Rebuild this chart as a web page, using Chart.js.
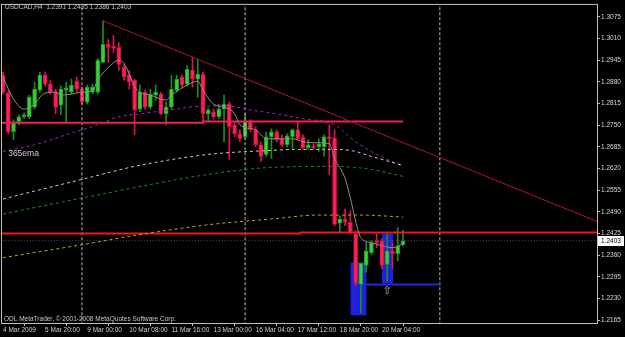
<!DOCTYPE html>
<html><head><meta charset="utf-8">
<script src="https://cdn.jsdelivr.net/npm/chart.js@4/dist/chart.umd.min.js"></script>
<style>html,body{margin:0;padding:0;background:#000;overflow:hidden}</style>
</head><body>
<canvas id="c" width="625" height="337"></canvas>
<script>
// ---- data ----
const headerText = "USDCAD,H4  1.2391 1.2435 1.2386 1.2403";
const copyrightText = "ODL MetaTrader, \u00A9 2001-2008 MetaQuotes Software Corp.";
const opens  = [1.2900,1.2846,1.2730,1.2760,1.2775,1.2775,1.2804,1.2855,1.2900,1.2873,1.2849,1.2810,1.2855,1.2849,1.2882,1.2858,1.2819,1.2849,1.2849,1.2938,1.2992,1.2986,1.2983,1.2923,1.2900,1.2885,1.2798,1.2849,1.2804,1.2840,1.2843,1.2784,1.2804,1.2855,1.2894,1.2873,1.2914,1.2888,1.2903,1.2784,1.2790,1.2775,1.2798,1.2813,1.2751,1.2724,1.2715,1.2760,1.2736,1.2691,1.2662,1.2715,1.2730,1.2709,1.2691,1.2715,1.2736,1.2715,1.2682,1.2688,1.2685,1.2685,1.2715,1.2712,1.2456,1.2468,1.2459,1.2424,1.2272,1.2329,1.2367,1.2403,1.2403,1.2332,1.2373,1.2364,1.2391];
const highs  = [1.2909,1.2852,1.2766,1.2781,1.2787,1.2840,1.2879,1.2909,1.2909,1.2885,1.2858,1.2867,1.2879,1.2888,1.2894,1.2864,1.2870,1.2873,1.2950,1.3063,1.3007,1.3019,1.2998,1.2932,1.2914,1.2888,1.2870,1.2855,1.2858,1.2870,1.2849,1.2819,1.2900,1.2900,1.2900,1.2929,1.2953,1.2947,1.2909,1.2801,1.2798,1.2813,1.2840,1.2819,1.2760,1.2736,1.2784,1.2766,1.2745,1.2700,1.2730,1.2739,1.2736,1.2721,1.2724,1.2739,1.2760,1.2721,1.2706,1.2694,1.2709,1.2721,1.2751,1.2736,1.2477,1.2498,1.2492,1.2433,1.2335,1.2397,1.2403,1.2424,1.2409,1.2424,1.2397,1.2442,1.2435];
const lows   = [1.2843,1.2724,1.2706,1.2751,1.2769,1.2769,1.2798,1.2849,1.2867,1.2843,1.2784,1.2781,1.2760,1.2843,1.2849,1.2813,1.2813,1.2843,1.2843,1.2938,1.2938,1.2968,1.2914,1.2885,1.2858,1.2721,1.2790,1.2798,1.2798,1.2825,1.2781,1.2751,1.2798,1.2849,1.2864,1.2867,1.2864,1.2834,1.2760,1.2760,1.2769,1.2769,1.2700,1.2647,1.2715,1.2700,1.2709,1.2730,1.2685,1.2641,1.2656,1.2650,1.2700,1.2685,1.2685,1.2680,1.2706,1.2677,1.2677,1.2677,1.2671,1.2656,1.2602,1.2448,1.2427,1.2448,1.2424,1.2269,1.2186,1.2308,1.2361,1.2382,1.2320,1.2284,1.2320,1.2343,1.2386];
const closes = [1.2849,1.2730,1.2760,1.2775,1.2781,1.2834,1.2858,1.2900,1.2873,1.2849,1.2804,1.2858,1.2861,1.2870,1.2858,1.2819,1.2864,1.2864,1.2944,1.2992,1.2983,1.2980,1.2932,1.2894,1.2879,1.2796,1.2849,1.2804,1.2843,1.2849,1.2784,1.2804,1.2858,1.2888,1.2870,1.2917,1.2888,1.2903,1.2784,1.2796,1.2775,1.2798,1.2813,1.2745,1.2724,1.2709,1.2760,1.2736,1.2691,1.2656,1.2715,1.2730,1.2706,1.2691,1.2718,1.2736,1.2709,1.2682,1.2691,1.2682,1.2694,1.2715,1.2709,1.2453,1.2468,1.2459,1.2427,1.2275,1.2335,1.2373,1.2397,1.2397,1.2329,1.2373,1.2364,1.2388,1.2403];

// moving averages (bar index, value)
const fastMaBars = [0,2,4,6,7,8,10,11,13,15,17,18,20,22,23,24,25,26,28,31,32,35,37,38,40,42,44,45,48,50,52,55,57,60,62,63,65,66,67,68,70,72,74,76];
const fastMaVals = [1.2894,1.2828,1.2798,1.2813,1.2834,1.2846,1.2849,1.2840,1.2843,1.2849,1.2852,1.2885,1.2923,1.2944,1.2935,1.2903,1.2865,1.2849,1.2840,1.2825,1.2840,1.2870,1.2882,1.2855,1.2813,1.2804,1.2784,1.2751,1.2736,1.2709,1.2709,1.2709,1.2700,1.2697,1.2694,1.2650,1.2590,1.2531,1.2462,1.2412,1.2397,1.2388,1.2382,1.2394];
const purpleMaBars = [0,6,12,18,22,26,32,38,43,46,52,57,63,67,71,76];
const purpleMaVals = [1.2671,1.2691,1.2721,1.2751,1.2775,1.2784,1.2796,1.2807,1.2807,1.2798,1.2784,1.2769,1.2751,1.2700,1.2662,1.2626];
const whiteMaBars = [0,6,15,25,39,51,56,62,66,70,76];
const whiteMaVals = [1.2528,1.2552,1.2587,1.2626,1.2662,1.2674,1.2677,1.2677,1.2674,1.2656,1.2629];
const greenMaBars = [0,15,39,51,63,70,76];
const greenMaVals = [1.2483,1.2531,1.2602,1.2623,1.2626,1.2617,1.2596];
const yellowMaBars = [0,15,27,39,51,60,68,76];
const yellowMaVals = [1.2352,1.2391,1.2424,1.2451,1.2468,1.2480,1.2480,1.2474];

// drawn objects
const trendBars = [19,113];
const trendVals = [1.3063,1.2460];
const pinkLineBars = [-1,38,38,76];
const pinkLineVals = [1.2757,1.2757,1.2761,1.2761];
const redLineBars = [-1,56.5,56.5,113];
const redLineVals = [1.2425,1.2425,1.2428,1.2428];
const blueLineBars = [69,83];
const blueLineVals = [1.2272,1.2272];
const bidPrice = 1.2403;
const separatorBars = [15,46,83];
const boxFrom = [66,72], boxTo = [69,74.1], boxTop = [1.2338,1.2424], boxBottom = [1.2180,1.2275];
const emaLabel = {bar:0.6, price:1.2664, text:"365ema"};
const arrowMark = {bar:73, price:1.2251, text:"\u21E7"};

const xTickBars = [0,8,16,24,32,40,48,56,64,72];
const xTickLabels = ["4 Mar 2009","5 Mar 20:00","9 Mar 00:00","10 Mar 08:00","11 Mar 16:00","13 Mar 00:00","16 Mar 04:00","17 Mar 12:00","18 Mar 20:00","20 Mar 04:00"];
const yTicks = [1.3075,1.3010,1.2945,1.2880,1.2815,1.2750,1.2685,1.2620,1.2555,1.2490,1.2425,1.2360,1.2295,1.2230,1.2165];

// ---- axis ranges ----
const yMin = 1.21561, yMax = 1.31107, xMin = -0.19, xMax = 112.86;

const bars = opens.map((_, i) => i);
const isUp = bars.map(i => closes[i] >= opens[i]);
const pts = (xs, ys) => xs.map((x, i) => ({x, y: ys[i]}));
const FONT = "'Liberation Sans', Arial, sans-serif";

const dashedMa = (data, color) => ({type:'line', data, borderColor:color, borderWidth:1, borderDash:[3,3], pointRadius:0, cubicInterpolationMode:'monotone', order:0});
const objLine = (data, color, w, dash) => ({type:'line', data, borderColor:color, borderWidth:w, borderDash:dash||[], pointRadius:0, tension:0, order:0});

const datasets = [
  {type:'bar', data: bars.map(i => ({x:i, y:[lows[i], highs[i]]})), backgroundColor: bars.map(i => isUp[i] ? '#1c8c1c' : '#e0144e'), barThickness:1, grouped:false, order:2},
  {type:'bar', data: bars.map(i => ({x:i, y:[opens[i], closes[i]]})), backgroundColor: bars.map(i => isUp[i] ? '#36d236' : '#ff1f5c'), borderColor: bars.map(i => isUp[i] ? '#1f9a1f' : '#d0103f'), borderWidth:1, borderSkipped:false, barThickness:4, minBarLength:1, grouped:false, order:1},
  dashedMa(pts(yellowMaBars, yellowMaVals), '#c8a020'),
  dashedMa(pts(greenMaBars, greenMaVals), '#1e8a1e'),
  dashedMa(pts(whiteMaBars, whiteMaVals), '#c8c8c8'),
  dashedMa(pts(purpleMaBars, purpleMaVals), '#a61ec8'),
  {type:'line', data: pts(fastMaBars, fastMaVals), borderColor:'#8e8e8e', borderWidth:1, pointRadius:0, cubicInterpolationMode:'monotone', order:0},
  objLine([{x:xMin-1,y:bidPrice},{x:xMax+1,y:bidPrice}], '#5a5a5a', 1, [1,2]),
  objLine(pts(trendBars, trendVals), '#b0123c', 1),
  objLine(pts(pinkLineBars, pinkLineVals), '#f21e5a', 2),
  objLine(pts(redLineBars, redLineVals), '#f01818', 2),
  objLine(pts(blueLineBars, blueLineVals), '#2626e6', 2),
  ...separatorBars.map(b => objLine([{x:b,y:yMin-1},{x:b,y:yMax+1}], '#bdbdbd', 1, [3,2]))
];

const decor = {
  id:'decor',
  beforeDatasetsDraw(chart) {
    const {ctx, scales:{x, y}, chartArea:a} = chart;
    ctx.save();
    ctx.beginPath(); ctx.rect(a.left, a.top, a.right-a.left, a.bottom-a.top); ctx.clip();
    boxFrom.forEach((f, i) => {
      const x0 = x.getPixelForValue(f), x1 = x.getPixelForValue(boxTo[i]);
      const y0 = y.getPixelForValue(boxTop[i]), y1 = y.getPixelForValue(boxBottom[i]);
      ctx.fillStyle = '#1c1cd6';
      ctx.fillRect(x0, y0, x1-x0, y1-y0);
      ctx.fillStyle = 'rgba(80,80,255,0.35)';
      for (let yy = Math.ceil(y0); yy < y1; yy += 2)
        for (let xx = Math.ceil(x0) + (yy % 4 ? 1 : 0); xx < x1; xx += 2) ctx.fillRect(xx, yy, 1, 1);
    });
    ctx.restore();
  },
  afterDraw(chart) {
    const {ctx, scales:{x, y}, chartArea:a} = chart;
    ctx.save();
    ctx.strokeStyle = '#c0c0c0'; ctx.lineWidth = 1;
    ctx.strokeRect(a.left - 0.5, a.top - 0.5, a.right - a.left + 1, a.bottom - a.top + 1);
    ctx.fillStyle = '#c8c8c8';
    ctx.font = "6.5px " + FONT; ctx.textBaseline = 'middle'; ctx.textAlign = 'left';
    ctx.fillText(headerText, 5, 7);
    ctx.fillText(copyrightText, 4, 319);
    ctx.font = "8.5px " + FONT; ctx.fillStyle = '#d0d0d0';
    ctx.fillText(emaLabel.text, x.getPixelForValue(emaLabel.bar) + 2, y.getPixelForValue(emaLabel.price));
    ctx.font = "11px 'DejaVu Sans'"; ctx.textAlign = 'center'; ctx.fillStyle = '#b8b8b8';
    ctx.fillText(arrowMark.text, x.getPixelForValue(arrowMark.bar), y.getPixelForValue(arrowMark.price));
    // bid price box
    const by = y.getPixelForValue(bidPrice);
    ctx.fillStyle = '#ffffff'; ctx.fillRect(a.right + 1, Math.round(by) - 5, 26, 10);
    ctx.fillStyle = '#000'; ctx.font = "6.5px " + FONT; ctx.textAlign = 'left';
    ctx.fillText(bidPrice.toFixed(4), a.right + 4, by);
    ctx.restore();
  }
};

new Chart(document.getElementById('c'), {
  type:'bar',
  data:{datasets},
  options:{
    responsive:false, animation:false, devicePixelRatioOverride:1,
    layout:{padding:{left:2, top:2, right:0, bottom:0}},
    plugins:{legend:{display:false}, tooltip:{enabled:false}},
    scales:{
      x:{type:'linear', min:xMin, max:xMax, offset:false, position:'bottom',
         afterBuildTicks: s => { s.ticks = xTickBars.map(v => ({value:v})); },
         afterFit: s => { s.height = 14; },
         ticks:{autoSkip:false, maxRotation:0, align:'start', padding:0, color:'#d0d0d0', font:{family:FONT, size:6.5},
                callback: v => xTickLabels[xTickBars.indexOf(v)] ?? ''},
         grid:{drawOnChartArea:false, drawTicks:true, tickLength:3, color:'#c0c0c0'},
         border:{display:true, color:'#c0c0c0'}},
      y:{type:'linear', min:yMin, max:yMax, position:'right',
         afterBuildTicks: s => { s.ticks = yTicks.map(v => ({value:v})); },
         afterFit: s => { s.width = 28; },
         ticks:{padding:1, color:'#d8d8d8', font:{family:FONT, size:6.5}, callback: v => Number(v).toFixed(4)},
         grid:{drawOnChartArea:false, drawTicks:true, tickLength:3, color:'#c0c0c0'},
         border:{display:true, color:'#c0c0c0'}}
    }
  },
  plugins:[decor]
});
</script>
</body></html>
